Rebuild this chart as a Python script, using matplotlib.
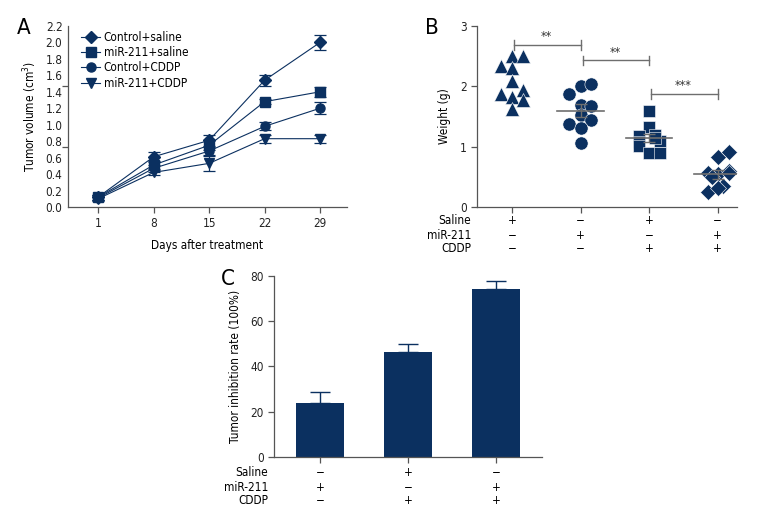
"""Tumor growth figure: panels A, B, C"""

import numpy as np
import matplotlib
matplotlib.use("Agg")
import matplotlib.pyplot as plt
from matplotlib.lines import Line2D
from matplotlib.transforms import blended_transform_factory

plt.rcParams['font.family'] = ['DejaVu Sans']
plt.rcParams['font.stretch'] = 'condensed'

NAVY = "#0b3060"
AXIS = "#555555"
GREY = "#6e6e6e"

# Panel A data
days = [1, 8, 15, 22, 29]
series_names = ["Control+saline", "miR-211+saline", "Control+CDDP", "miR-211+CDDP"]
series_markers = ["D", "s", "o", "v"]
ctrl_saline = [0.12, 0.61, 0.81, 1.54, 2.00]
ctrl_saline_err = [0.03, 0.06, 0.07, 0.07, 0.09]
mir_saline = [0.12, 0.51, 0.75, 1.28, 1.40]
mir_saline_err = [0.03, 0.05, 0.06, 0.03, 0.06]
ctrl_cddp = [0.11, 0.47, 0.68, 0.98, 1.20]
ctrl_cddp_err = [0.03, 0.04, 0.05, 0.05, 0.07]
mir_cddp = [0.10, 0.42, 0.53, 0.83, 0.83]
mir_cddp_err = [0.03, 0.03, 0.09, 0.05, 0.05]

# Panel B data (individual weights)
w_group1 = [2.50, 2.50, 2.34, 2.31, 2.08, 1.87, 1.83, 1.94, 1.78, 1.62]
w_group2 = [1.88, 2.00, 2.04, 1.69, 1.67, 1.53, 1.37, 1.44, 1.31, 1.06]
w_group3 = [1.59, 1.32, 1.19, 1.17, 1.10, 1.07, 1.01, 0.89, 0.89, 1.14]
w_group4 = [0.83, 0.91, 0.56, 0.55, 0.59, 0.34, 0.24, 0.31, 0.56, 0.50]
w_xoff = [[0, 0.48, -0.48, 0, 0, -0.48, 0, 0.48, 0.48, 0],
          [-0.52, 0, 0.48, 0, 0.48, 0, -0.52, 0.48, 0, 0],
          [0, 0, 0.25, -0.45, 0.48, -0.45, -0.45, 0, 0.48, 0.25],
          [0, 0.48, -0.45, 0, 0.48, 0.25, -0.45, 0, 0.48, -0.25]]
w_markers = ["^", "o", "s", "D"]
sig_pairs = [(0, 1), (1, 2), (2, 3)]
sig_heights = [2.68, 2.43, 1.87]
sig_labels = ["**", "**", "***"]
b_rows = ["Saline", "miR-211", "CDDP"]
b_signs = [["+", "−", "+", "−"], ["−", "+", "−", "+"], ["−", "−", "+", "+"]]

# Panel C data
inhib = [23.9, 46.4, 74.4]
inhib_err = [4.7, 3.7, 3.2]
c_signs = [["−", "+", "−"], ["+", "−", "+"], ["−", "+", "+"]]


def style_axes(ax):
    for side in ["top", "right"]:
        ax.spines[side].set_visible(False)
    for side in ["left", "bottom"]:
        ax.spines[side].set_color(AXIS)
        ax.spines[side].set_linewidth(0.9)
    ax.tick_params(colors="#222222", labelsize=8.5, length=4, width=0.9)
    ax.tick_params(axis="both", color=AXIS)


def sign_rows(ax, xs, signs, rows_y, label_x):
    trans = blended_transform_factory(ax.transData, ax.transAxes)
    for r, name in enumerate(b_rows):
        ax.text(label_x, rows_y[r], name, transform=ax.transAxes, ha="right",
                va="center", fontsize=8.5)
        for x, s in zip(xs, signs[r]):
            ax.text(x, rows_y[r], s, transform=trans, ha="center", va="center",
                    fontsize=8.5)


fig = plt.figure(figsize=(7.8, 5.28), dpi=100)

# ---------------- Panel A ----------------
axA = fig.add_axes([0.0872, 0.608, 0.3577, 0.3428])
style_axes(axA)
allvals = [ctrl_saline, mir_saline, ctrl_cddp, mir_cddp]
allerrs = [ctrl_saline_err, mir_saline_err, ctrl_cddp_err, mir_cddp_err]
handles = []
for vals, errs, mk, name in zip(allvals, allerrs, series_markers, series_names):
    ms = 6.5 if mk != "D" else 6
    axA.errorbar(days, vals, yerr=errs, color=NAVY, marker=mk, markersize=ms,
                 lw=0.8, elinewidth=0.9, capsize=4, capthick=0.9)
    handles.append(Line2D([], [], color=NAVY, marker=mk, markersize=ms, lw=0.8))
axA.set_xlim(-2.8, 32.4)
axA.set_ylim(0, 2.2)
axA.set_xticks(days)
axA.set_yticks(np.arange(0, 2.21, 0.2))
axA.set_yticklabels(["%.1f" % v for v in np.arange(0, 2.21, 0.2)])
axA.tick_params(axis="y", length=0, pad=4)
axA.set_yticks([0, 2.2 / 3, 4.4 / 3, 2.2], minor=True)
axA.tick_params(axis="y", which="minor", length=4, width=0.9, color=AXIS)
axA.set_xlabel("Days after treatment", fontsize=8.5, labelpad=6)
axA.set_ylabel("Tumor volume (cm$^3$)", fontsize=8.5, labelpad=5)
axA.legend(handles, series_names, loc="upper left", bbox_to_anchor=(0.03, 1.0),
           frameon=False, fontsize=8.5, handlelength=1.6, handletextpad=0.3,
           labelspacing=0.2, borderaxespad=0)
fig.text(0.022, 0.965, "A", fontsize=16, va="top")

# ---------------- Panel B ----------------
axB = fig.add_axes([0.6115, 0.608, 0.3333, 0.3428])
style_axes(axB)
groups = [w_group1, w_group2, w_group3, w_group4]
for i, (vals, mk) in enumerate(zip(groups, w_markers)):
    xs = i + np.array(w_xoff[i]) * 0.33
    ms = {"^": 10.5, "o": 9.5, "s": 9, "D": 8.5}[mk]
    axB.plot(xs, vals, linestyle="none", marker=mk, markersize=ms, color=NAVY,
             markeredgecolor="white", markeredgewidth=0.4, zorder=3)
    if i > 0:
        m = np.mean(vals)
        sem = np.std(vals, ddof=1) / np.sqrt(len(vals))
        axB.plot([i - 0.34, i + 0.34], [m, m], color=GREY, lw=1.2, zorder=4)
        axB.errorbar([i], [m], yerr=[sem], color=GREY, lw=1.0, capsize=4,
                     capthick=1.0, zorder=4)
for (a, b), h, lab in zip(sig_pairs, sig_heights, sig_labels):
    axB.plot([a + 0.03, b], [h, h], color=GREY, lw=1.0)
    axB.plot([a + 0.03, a + 0.03], [h - 0.08, h + 0.08], color=GREY, lw=1.0)
    axB.plot([b, b], [h - 0.08, h + 0.08], color=GREY, lw=1.0)
    axB.text((a + b) / 2, h + 0.03, lab, ha="center", va="bottom", fontsize=9,
             color="#333333")
axB.set_xlim(-0.51, 3.28)
axB.set_ylim(0, 3)
axB.set_yticks([0, 1, 2, 3])
axB.set_xticks([0, 1, 2, 3])
axB.set_xticklabels([])
axB.set_ylabel("Weight (g)", fontsize=8.5, labelpad=6)
sign_rows(axB, [0, 1, 2, 3], b_signs, [-0.072, -0.155, -0.227], -0.023)
fig.text(0.545, 0.965, "B", fontsize=16, va="top")

# ---------------- Panel C ----------------
axC = fig.add_axes([0.3513, 0.1345, 0.3436, 0.3428])
style_axes(axC)
xc = np.arange(len(inhib))
axC.bar(xc, inhib, width=0.54, color=NAVY, zorder=2)
axC.errorbar(xc, inhib, yerr=[np.zeros(len(inhib)), inhib_err], fmt="none",
             ecolor=NAVY, elinewidth=1.0, capsize=7, capthick=1.0, zorder=1)
axC.set_xlim(-0.52, 2.52)
axC.set_ylim(0, 80)
axC.set_yticks([0, 20, 40, 60, 80])
axC.set_xticks(xc)
axC.set_xticklabels([])
axC.set_ylabel("Tumor inhibition rate (100%)", fontsize=8.5, labelpad=6)
sign_rows(axC, xc, c_signs, [-0.083, -0.166, -0.238], -0.022)
fig.text(0.283, 0.49, "C", fontsize=16, va="top")

fig.savefig("out.png", dpi=100)
